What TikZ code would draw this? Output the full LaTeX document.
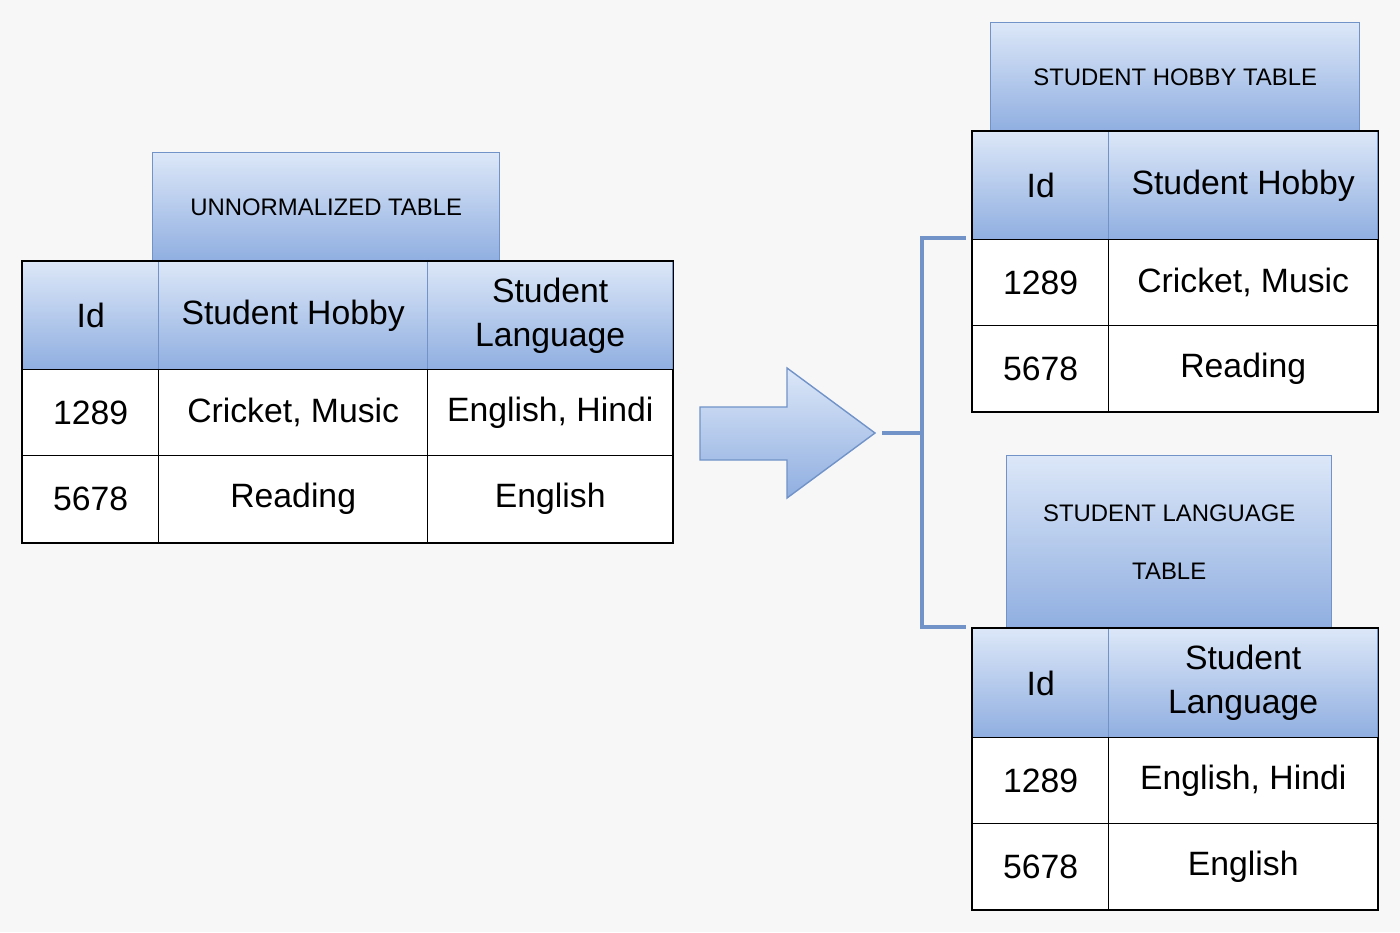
\documentclass[tikz,border=0pt]{standalone}
\usepackage{fontspec}
\setmainfont{Liberation Sans}
\usetikzlibrary{positioning}
\definecolor{bgcol}{HTML}{F7F7F7}
\definecolor{hdrtop}{HTML}{DCE7F8}
\definecolor{hdrbot}{HTML}{8FAEE0}
\definecolor{hdrline}{HTML}{7193C8}
\tikzset{
  hdr/.style={draw=hdrline, top color=hdrtop, bottom color=hdrbot, anchor=north west,
    inner sep=0pt, align=center, font=\fontsize{9.6}{12.5}\selectfont},
  title/.style={hdr, font=\fontsize{6.8}{16.5}\selectfont},
  cell/.style={draw=black, fill=white, anchor=north west, inner sep=0pt, align=center,
    font=\fontsize{9.6}{12}\selectfont},
}
\begin{document}
\begin{tikzpicture}
\fill[bgcol] (0,0) rectangle (14,-9.32);
\useasboundingbox (0,0) rectangle (14,-9.32);

% unnormalized table
\node[title, minimum width=3.47cm, minimum height=1.09cm] (ut) at (1.52,-1.52) {UNNORMALIZED TABLE};
\node[hdr, minimum width=1.36cm, minimum height=1.08cm] (uh1) at (0.22,-2.61) {Id};
\node[hdr, minimum width=2.69cm, minimum height=1.08cm] (uh2) at (1.58,-2.61) {Student Hobby};
\node[hdr, minimum width=2.45cm, minimum height=1.08cm] (uh3) at (4.27,-2.61) {Student\\Language};
\node[cell, minimum width=1.36cm, minimum height=0.86cm] (ua1) at (0.22,-3.69) {1289};
\node[cell, minimum width=2.69cm, minimum height=0.86cm] (ua2) at (1.58,-3.69) {Cricket, Music};
\node[cell, minimum width=2.45cm, minimum height=0.86cm] (ua3) at (4.27,-3.69) {English, Hindi};
\node[cell, minimum width=1.36cm, minimum height=0.87cm] (ub1) at (0.22,-4.55) {5678};
\node[cell, minimum width=2.69cm, minimum height=0.87cm] (ub2) at (1.58,-4.55) {Reading};
\node[cell, minimum width=2.45cm, minimum height=0.87cm] (ub3) at (4.27,-4.55) {English};
\draw (uh1.north west) rectangle (ub3.south east);

% arrow
\draw[hdrline, top color=hdrtop, bottom color=hdrbot]
  (7.00,-4.07) -- (7.87,-4.07) -- (7.87,-3.68) -- (8.75,-4.33) -- (7.87,-4.98)
  -- (7.87,-4.60) -- (7.00,-4.60) -- cycle;

% bracket
\coordinate (bm) at (8.82,-4.33);
\coordinate (bt) at (9.66,-2.38);
\coordinate (bb) at (9.66,-6.27);
\draw[hdrline, line width=1.2pt] (bm) -- ++(0.40,0) (bt) -- ++(-0.44,0) |- (bb);

% hobby table
\node[title, minimum width=3.69cm, minimum height=1.09cm] (ht) at (9.90,-0.22) {STUDENT HOBBY TABLE};
\node[hdr, minimum width=1.36cm, minimum height=1.08cm] (hh1) at (9.72,-1.31) {Id};
\node[hdr, minimum width=2.69cm, minimum height=1.08cm] (hh2) at (11.08,-1.31) {Student Hobby};
\node[cell, minimum width=1.36cm, minimum height=0.86cm] (ha1) at (9.72,-2.39) {1289};
\node[cell, minimum width=2.69cm, minimum height=0.86cm] (ha2) at (11.08,-2.39) {Cricket, Music};
\node[cell, minimum width=1.36cm, minimum height=0.86cm] (hb1) at (9.72,-3.25) {5678};
\node[cell, minimum width=2.69cm, minimum height=0.86cm] (hb2) at (11.08,-3.25) {Reading};
\draw (hh1.north west) rectangle (hb2.south east);

% language table
\node[title, minimum width=3.25cm, minimum height=1.73cm] (lt) at (10.06,-4.55) {STUDENT LANGUAGE\\TABLE};
\node[hdr, minimum width=1.36cm, minimum height=1.09cm] (lh1) at (9.72,-6.28) {Id};
\node[hdr, minimum width=2.69cm, minimum height=1.09cm] (lh2) at (11.08,-6.28) {Student\\Language};
\node[cell, minimum width=1.36cm, minimum height=0.86cm] (la1) at (9.72,-7.37) {1289};
\node[cell, minimum width=2.69cm, minimum height=0.86cm] (la2) at (11.08,-7.37) {English, Hindi};
\node[cell, minimum width=1.36cm, minimum height=0.86cm] (lb1) at (9.72,-8.23) {5678};
\node[cell, minimum width=2.69cm, minimum height=0.86cm] (lb2) at (11.08,-8.23) {English};
\draw (lh1.north west) rectangle (lb2.south east);
\end{tikzpicture}
\end{document}
